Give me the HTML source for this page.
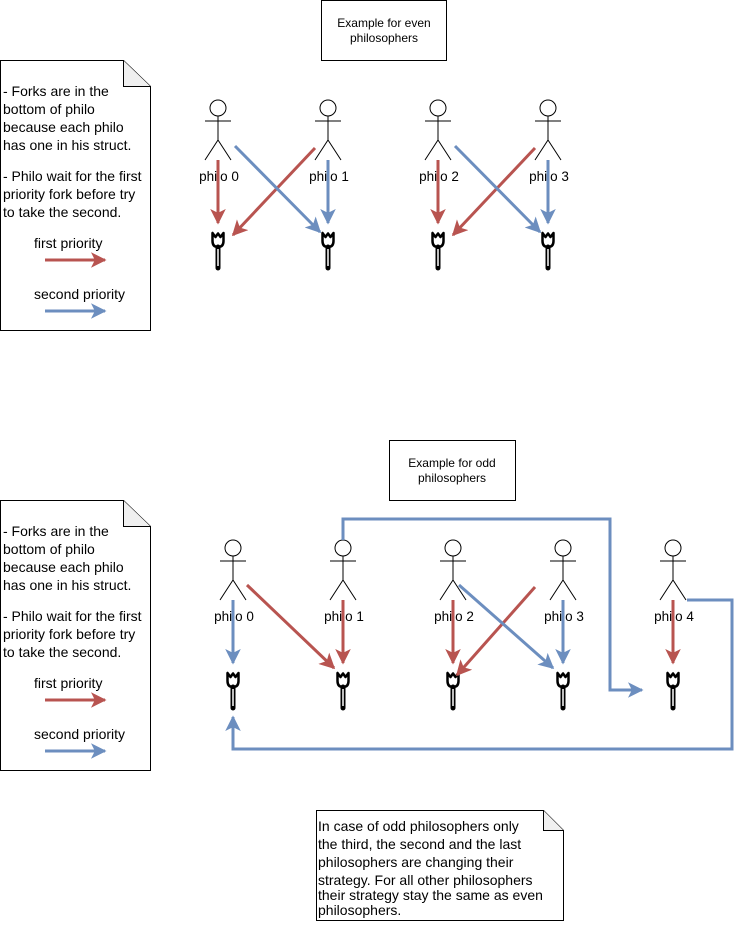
<!DOCTYPE html>
<html><head><style>
body{margin:0;background:#fff;}
svg text{font-family:"Liberation Sans",Arial,sans-serif;}
</style></head><body>
<svg width="741" height="921" viewBox="0 0 741 921" xmlns="http://www.w3.org/2000/svg">
<defs>
<marker id="ar" viewBox="0 0 10 10" refX="9" refY="5" markerWidth="5.2" markerHeight="5.2" orient="auto" markerUnits="strokeWidth"><path d="M0,0 L10,5 L0,10 L2.5,5 z" fill="#b85450"/></marker>
<marker id="ab" viewBox="0 0 10 10" refX="9" refY="5" markerWidth="5.2" markerHeight="5.2" orient="auto" markerUnits="strokeWidth"><path d="M0,0 L10,5 L0,10 L2.5,5 z" fill="#6c8ebf"/></marker>
<g id="fig" fill="none" stroke="#000" stroke-width="1">
<circle cx="0" cy="0" r="8" fill="#fff"/>
<path d="M0,8 V32 M-13,13 H13 M0,32 L-13,52 M0,32 L13,52"/>
</g>
<g id="fork">
<path d="M-5.5,0 V8 Q-5.5,14 0,14 Q5.5,14 5.5,8 V0 L2.5,4 L0,0.5 L-2.5,4 Z" fill="none" stroke="#000" stroke-width="2.5" stroke-linejoin="round"/>
<path d="M0,14 V35" stroke="#000" stroke-width="5" stroke-linecap="round"/>
<path d="M0,16 V33" stroke="#fff" stroke-width="1.5"/>
</g>
</defs>
<g fill="#fff" stroke="#000" stroke-width="1">
<rect x="321.5" y="0.5" width="125" height="60"/>
<rect x="389.5" y="440.5" width="126" height="60"/>
<path d="M0.5,60.5 H123.5 L150.5,86.5 V330.5 H0.5 Z"/>
<path d="M123.5,60.5 V86.5 H150.5" fill="#f0f0f0"/>
<path d="M0.5,500.5 H123.5 L150.5,526.5 V770.5 H0.5 Z"/>
<path d="M123.5,500.5 V526.5 H150.5" fill="#f0f0f0"/>
<path d="M316.5,810.5 H543.5 L563.5,830.5 V920.5 H316.5 Z"/>
<path d="M543.5,810.5 V830.5 H563.5" fill="#f0f0f0"/>
</g>
<g font-size="12" text-anchor="middle">
<text x="384" y="27">Example for even</text><text x="384" y="42">philosophers</text>
<text x="452" y="467">Example for odd</text><text x="452" y="482">philosophers</text>
</g>
<g font-size="14">
<text x="3" y="96">- Forks are in the</text><text x="3" y="114">bottom of philo</text><text x="3" y="132">because each philo</text><text x="3" y="150">has one in his struct.</text>
<text x="3" y="181">- Philo wait for the first</text><text x="3" y="199">priority fork before try</text><text x="3" y="217">to take the second.</text>
<text x="34" y="248">first priority</text><text x="34" y="299">second priority</text>
<text x="3" y="536">- Forks are in the</text><text x="3" y="554">bottom of philo</text><text x="3" y="572">because each philo</text><text x="3" y="590">has one in his struct.</text>
<text x="3" y="621">- Philo wait for the first</text><text x="3" y="639">priority fork before try</text><text x="3" y="657">to take the second.</text>
<text x="34" y="688">first priority</text><text x="34" y="739">second priority</text>
<text x="318" y="831">In case of odd philosophers only</text><text x="318" y="849">the third, the second and the last</text><text x="318" y="867">philosophers are changing their</text><text x="318" y="885">strategy. For all other philosophers</text><text x="318" y="900">their strategy stay the same as even</text><text x="318" y="915">philosophers.</text>
</g>
<g stroke-width="3" fill="none">
<path d="M45,260 H105" stroke="#b85450" marker-end="url(#ar)"/>
<path d="M45,311 H105" stroke="#6c8ebf" marker-end="url(#ab)"/>
<path d="M45,700 H105" stroke="#b85450" marker-end="url(#ar)"/>
<path d="M45,751 H105" stroke="#6c8ebf" marker-end="url(#ab)"/>
</g>
<g>
<use href="#fig" x="218" y="108"/><use href="#fig" x="328" y="108"/><use href="#fig" x="438" y="108"/><use href="#fig" x="548" y="108"/>
<use href="#fork" x="218" y="233"/><use href="#fork" x="328" y="233"/><use href="#fork" x="438" y="233"/><use href="#fork" x="548" y="233"/>
<use href="#fig" x="233" y="548"/><use href="#fig" x="343" y="548"/><use href="#fig" x="453" y="548"/><use href="#fig" x="563" y="548"/><use href="#fig" x="673" y="548"/>
<use href="#fork" x="233" y="673"/><use href="#fork" x="343" y="673"/><use href="#fork" x="453" y="673"/><use href="#fork" x="563" y="673"/><use href="#fork" x="673" y="673"/>
</g>
<g font-size="13.5" text-anchor="middle" fill="#000">
<text x="219" y="181">philo 0</text><text x="329" y="181">philo 1</text><text x="439" y="181">philo 2</text><text x="549" y="181">philo 3</text>
<text x="234" y="621">philo 0</text><text x="344" y="621">philo 1</text><text x="454" y="621">philo 2</text><text x="564" y="621">philo 3</text><text x="674" y="621">philo 4</text>
</g>
<g stroke-width="3" fill="none">
<path d="M218,160 V223" stroke="#b85450" marker-end="url(#ar)"/>
<path d="M315,148 L233,235" stroke="#b85450" marker-end="url(#ar)"/>
<path d="M235,146 L320,232" stroke="#6c8ebf" marker-end="url(#ab)"/>
<path d="M328,160 V223" stroke="#6c8ebf" marker-end="url(#ab)"/>
<path d="M438,160 V223" stroke="#b85450" marker-end="url(#ar)"/>
<path d="M535,148 L453,235" stroke="#b85450" marker-end="url(#ar)"/>
<path d="M455,146 L540,232" stroke="#6c8ebf" marker-end="url(#ab)"/>
<path d="M548,160 V223" stroke="#6c8ebf" marker-end="url(#ab)"/>

<path d="M233,600 V663" stroke="#6c8ebf" marker-end="url(#ab)"/>
<path d="M247,585 L334,668" stroke="#b85450" marker-end="url(#ar)"/>
<path d="M343,600 V663" stroke="#b85450" marker-end="url(#ar)"/>
<path d="M453,600 V663" stroke="#b85450" marker-end="url(#ar)"/>
<path d="M535,587 L457,675" stroke="#b85450" marker-end="url(#ar)"/>
<path d="M459,585 L553,668" stroke="#6c8ebf" marker-end="url(#ab)"/>
<path d="M563,600 V663" stroke="#6c8ebf" marker-end="url(#ab)"/>
<path d="M673,600 V663" stroke="#b85450" marker-end="url(#ar)"/>
<path d="M343,540 V519 H610 V690 H642" stroke="#6c8ebf" marker-end="url(#ab)"/>
<path d="M687,600 H732 V749 H233 V717" stroke="#6c8ebf" marker-end="url(#ab)"/>
</g>
</svg>
</body></html>
